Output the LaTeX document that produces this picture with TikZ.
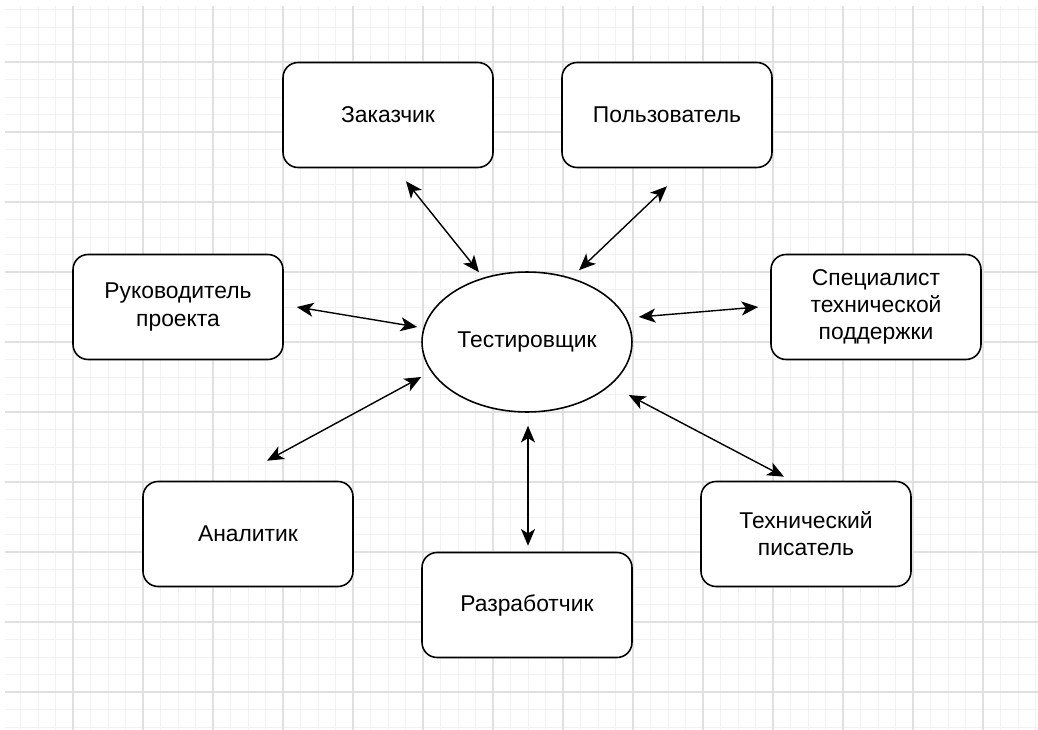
\documentclass[tikz,border=0pt]{standalone}
\usepackage{fontspec}
\setmainfont{Liberation Sans}
\usetikzlibrary{arrows.meta,calc,shapes.geometric}
\definecolor{gridminor}{HTML}{F2F2F2}
\definecolor{gridmajor}{HTML}{E0E0E0}

\begin{document}
\begin{tikzpicture}[x=0.02cm, y=-0.02cm,
  role/.style={draw, line width=0.9pt, rounded corners=0.3cm, fill=white,
    minimum width=4.2cm, minimum height=2.1cm, align=center,
    font=\fontsize{13}{15.5}\selectfont},
  hub/.style={draw, ellipse, line width=0.9pt, fill=white, inner sep=0pt,
    minimum width=4.2cm, minimum height=2.8cm,
    font=\fontsize{13}{15.5}\selectfont},
  link/.style={{Stealth[length=9.5pt,width=8pt,inset=2.5pt]}-{Stealth[length=9.5pt,width=8pt,inset=2.5pt]},
    line width=0.8pt}]
  \useasboundingbox (0,0) rectangle (1038,730);
  \fill[white] (0,0) rectangle (1038,730);

  % -------- grid --------
  \foreach \k in {1,...,59} {
    \draw[gridminor, line width=0.55pt] (3+17.5*\k,6) -- (3+17.5*\k,730);
  }
  \foreach \k in {0,...,41} {
    \draw[gridminor, line width=0.55pt] (5,9.5+17.5*\k) -- (1038,9.5+17.5*\k);
  }
  \foreach \x in {73,143,...,1013} {
    \draw[gridmajor, line width=0.6pt] (\x,6) -- (\x,730);
  }
  \foreach \y in {62,132,...,692} {
    \draw[gridmajor, line width=0.6pt] (5,\y) -- (1038,\y);
  }

  % -------- roles --------
  \node[hub] (tester) at (527,342) {Тестировщик};
  \node[role] (customer) at (388,115) {Заказчик};
  \node[role] (user) at (667,115) {Пользователь};
  \node[role] (manager) at (178,307) {Руководитель\\проекта};
  \node[role] (support) at (876,307) {Специалист\\технической\\поддержки};
  \node[role] (analyst) at (248,534) {Аналитик};
  \node[role] (developer) at (527,605) {Разработчик};
  \node[role] (writer) at (806,534) {Технический\\писатель};

  % -------- links --------
  \draw[link] ($(customer.south)+(18,13)$) -- ($(tester.north)+(-48,1)$);
  \draw[link] ($(user.south)+(0,18)$) -- ($(tester.north)+(52,-1)$);
  \draw[link] ($(manager.east)+(13,0)$) -- ($(tester.west)+(-4,-15)$);
  \draw[link] ($(tester.east)+(6,-25)$) -- ($(support.west)+(-12,0)$);
  \draw[link] ($(analyst.north)+(19,-20)$) -- ($(tester.west)+(0,35)$);
  \draw[link] ($(tester.south)+(1,13)$) -- ($(developer.north)+(1,-6)$);
  \draw[link] ($(tester.east)+(-4,53)$) -- ($(writer.north)+(-22,-4)$);
\end{tikzpicture}
\end{document}
